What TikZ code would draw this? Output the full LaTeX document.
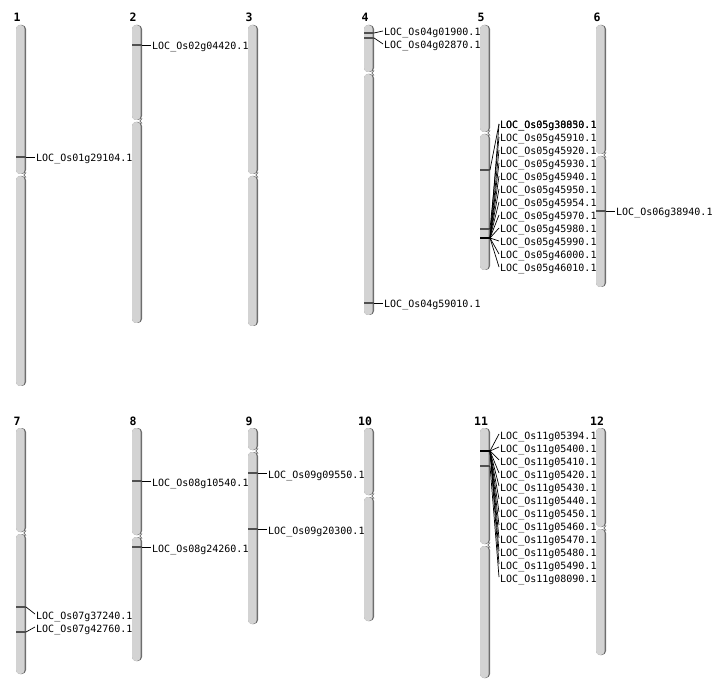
\documentclass[tikz,border=0pt]{standalone}
\usepackage{fontspec}
\setmonofont{DejaVu Sans Mono}
\usetikzlibrary{positioning}

\definecolor{chrbody}{HTML}{D3D3D3}
\definecolor{chrshade}{HTML}{6E6E6E}
\definecolor{genegray}{HTML}{505050}

% chromosome: x, top, centromere, bottom, number, name
\newcommand{\chromo}[6]{%
  \fill[chrshade, rounded corners=4pt] (#1,#2) rectangle (#1+10,#3-1);
  \fill[chrbody, rounded corners=4pt] (#1,#2) rectangle (#1+8.6,#3-1);
  \fill[chrshade, rounded corners=4pt] (#1,#3+1) rectangle (#1+10,#4);
  \fill[chrbody, rounded corners=4pt] (#1,#3+1) rectangle (#1+8.6,#4);
  \draw[chrshade, line width=.8pt] (#1+10,#3-2.5) -- (#1+8,#3) -- (#1+10,#3+2.5);
  \node[chrnum] (#6) at (#1+1,#2-3) {#5};
}

\begin{document}
\begin{tikzpicture}[x=1pt,y=-1pt,
    chrnum/.style={anchor=base, inner sep=0pt, font=\ttfamily\bfseries\fontsize{11.5}{12}\selectfont},
    loc/.style={anchor=west, inner sep=1pt, text height=10pt, text depth=0pt, font=\ttfamily\fontsize{10}{12}\selectfont},
    gene/.style={genegray, line width=1.3pt},
    genes/.style={black, line width=2.6pt},
    link/.style={black, line width=.7pt}]
  \useasboundingbox (0,0) rectangle (712,700);

  % first row
  \chromo{16}{25}{175}{386}{1}{c1}
  \chromo{132}{25}{121}{323}{2}{c2}
  \chromo{248}{25}{175}{326}{3}{c3}
  \chromo{364}{25}{73}{315}{4}{c4}
  \chromo{480}{25}{133}{270}{5}{c5}
  \chromo{596}{25}{155}{287}{6}{c6}

  % second row
  \chromo{16}{428}{533}{674}{7}{c7}
  \chromo{132}{428}{536}{661}{8}{c8}
  \chromo{248}{428}{451}{624}{9}{c9}
  \chromo{364}{428}{496}{621}{10}{c10}
  \chromo{480}{428}{545}{678}{11}{c11}
  \chromo{596}{428}{528}{655}{12}{c12}

  % gene positions
  \coordinate (m1)  at (26,157);
  \coordinate (m2)  at (142,45);
  \coordinate (m4a) at (374,33);
  \coordinate (m4b) at (374,38);
  \coordinate (m4c) at (374,303);
  \coordinate (m5a) at (490,170);
  \coordinate (m5b) at (490,229);
  \coordinate (m5c) at (490,238);
  \coordinate (m6)  at (606,211);
  \coordinate (m7a) at (26,607);
  \coordinate (m7b) at (26,632);
  \coordinate (m8a) at (142,481);
  \coordinate (m8b) at (142,547);
  \coordinate (m9a) at (258,473);
  \coordinate (m9b) at (258,529);
  \coordinate (m11a) at (490,451);
  \coordinate (m11b) at (490,466);

  \foreach \m in {m1,m2,m4a,m4b,m4c,m5a,m5b,m6,m7a,m7b,m8a,m8b,m9a,m9b,m11b}
    \draw[gene] (\m) -- ++(-10,0);
  \draw[genes] (m5c) -- ++(-10,0);
  \draw[genes] (m11a) -- ++(-10,0);

  % labels
  \node[loc] (l1)  at (35,157) {LOC\_Os01g29104.1};
  \node[loc] (l2)  at (151,45) {LOC\_Os02g04420.1};
  \node[loc] (l4a) at (383,31) {LOC\_Os04g01900.1};
  \node[loc] (l4b) at (383,44) {LOC\_Os04g02870.1};
  \node[loc] (l4c) at (383,303) {LOC\_Os04g59010.1};
  \node[loc] (l6)  at (615,211) {LOC\_Os06g38940.1};
  \node[loc] (l7a) at (35,614) {LOC\_Os07g37240.1};
  \node[loc] (l7b) at (35,627) {LOC\_Os07g42760.1};
  \node[loc] (l8a) at (151,481) {LOC\_Os08g10540.1};
  \node[loc] (l8b) at (151,547) {LOC\_Os08g24260.1};
  \node[loc] (l9a) at (267,473) {LOC\_Os09g09550.1};
  \node[loc] (l9b) at (267,529) {LOC\_Os09g20300.1};

  \node[loc] (l5x) at (499,124) {LOC\_Os05g30050.1};
  \node[loc] (l5y) at (499,124) {LOC\_Os05g38830.1};
  \foreach \g [count=\i] in {45910,45920,45930,45940,45950,45954,45970,45980,45990,46000,46010}
    \node[loc] (l5-\i) at (499,124+13*\i) {LOC\_Os05g\g.1};

  \foreach \g [count=\i] in {05394,05400,05410,05420,05430,05440,05450,05460,05470,05480,05490,08090}
    \node[loc] (l11-\i) at (499,421+13*\i) {LOC\_Os11g\g.1};

  % connectors
  \draw[link] (m1) -- (l1.west);
  \draw[link] (m2) -- (l2.west);
  \draw[link] (m4a) -- (l4a.west);
  \draw[link] (m4b) -- (l4b.west);
  \draw[link] (m4c) -- (l4c.west);
  \draw[link] (m6) -- (l6.west);
  \draw[link] (m7a) -- (l7a.west);
  \draw[link] (m7b) -- (l7b.west);
  \draw[link] (m8a) -- (l8a.west);
  \draw[link] (m8b) -- (l8b.west);
  \draw[link] (m9a) -- (l9a.west);
  \draw[link] (m9b) -- (l9b.west);

  \draw[link] (m5a) -- (l5x.west);
  \draw[link] (m5c) -- (l5y.west);
  \draw[link] (m5b) -- (l5-1.west);
  \foreach \i in {2,...,11}
    \draw[link] (m5c) -- (l5-\i.west);

  \foreach \i in {1,...,11}
    \draw[link] (m11a) -- (l11-\i.west);
  \draw[link] (m11b) -- (l11-12.west);
\end{tikzpicture}
\end{document}
